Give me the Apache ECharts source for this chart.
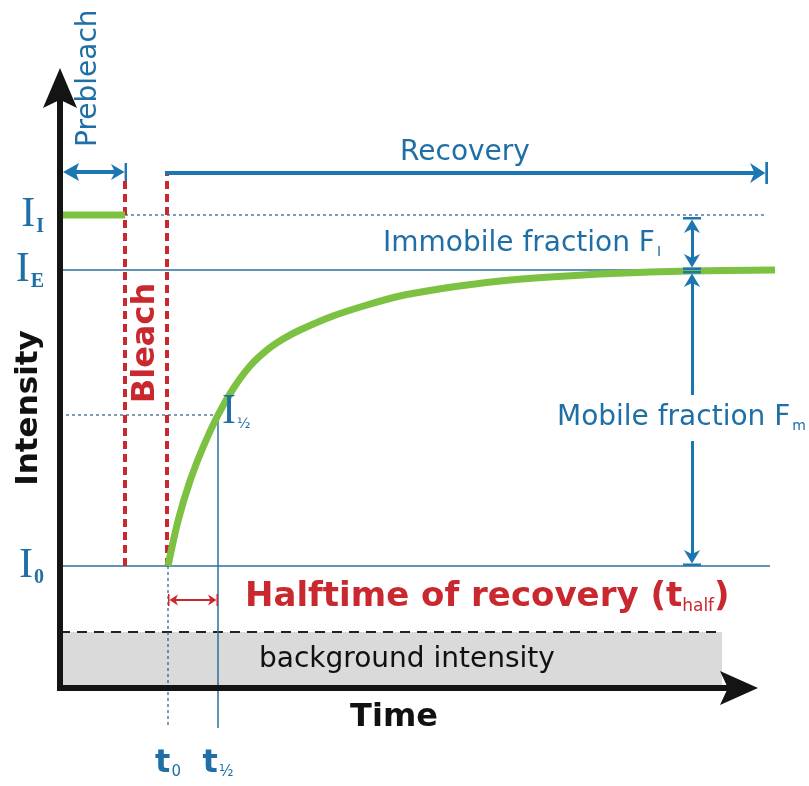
<!DOCTYPE html>
<html>
<head>
<meta charset="utf-8">
<title>FRAP recovery curve</title>
<script src="https://cdn.jsdelivr.net/npm/echarts@6/dist/echarts.min.js"></script>
<style>
    html, body { margin: 0; padding: 0; background: #fff; }
    #main { width: 809px; height: 786px; }
</style>
</head>
<body>
<div id="main"></div>
<script>
// intensity levels (bottom of plot = 0)
const levelValues = [122, 418, 473];   // I0, IE, II
const levelSubs = ['0', 'E', 'I'];
const halfIntensity = 273;             // I 1/2
const bgIntensity = 56;                // background intensity

// time marks
const timeValues = [108, 158];         // t0, t1/2
const timeSubs = ['0', '½'];
const bleachTimes = [65, 107];
const endTime = 710;

// prebleach plateau and recovery curve
const prebleachTime = [0, 65];
const recoveryTime = [108, 118, 130, 144, 158, 173, 190, 207, 223, 240, 273, 307, 340, 373, 407, 440, 490, 540, 590, 630, 715];
const recoveryIntensity = [122, 167, 207, 243, 273, 299, 322, 338, 349, 358, 372, 383, 392, 398, 403, 407, 411, 414, 416, 417, 418];

const blue = '#1f6fa6', arrowBlue = '#1c76b2', red = '#c8282e', green = '#7dc142', dotBlue = '#2c5d80';
const sans = 'DejaVu Sans';
// arrow heads (tip at the top, symbol centred on the line end)
const head = 'path://M10,0L20,24L10,19L0,24Z';
const barArrow = 'path://M0,0L20,0L20,3L0,3ZM10,3L19,20L10,15L1,20Z';

var myChart = echarts.init(document.getElementById('main'));

function seg(points, color, width, type) {
    return {
        type: 'line', data: points, symbol: 'none', clip: false, silent: true,
        lineStyle: { color: color, width: width, type: type || 'solid' }
    };
}

function arrow(from, to, color, width, symbols, size) {
    return {
        type: 'line', data: [], clip: false, silent: true,
        markLine: {
            silent: true, animation: false,
            symbol: symbols, symbolSize: size,
            label: { show: false },
            emphasis: { disabled: true },
            lineStyle: { color: color, width: width, type: 'solid', cap: 'square' },
            data: [[{ coord: from }, { coord: to }]]
        }
    };
}

function text(str, x, y, style) {
    return {
        type: 'text', x: x, y: y, z: 100, rotation: style.rotation || 0,
        style: Object.assign({
            text: str, fill: blue, fontFamily: sans, fontSize: 28,
            align: 'left', verticalAlign: 'middle'
        }, style)
    };
}

const subStyle = { fontFamily: sans, fontSize: 14, fill: blue, padding: [16, 0, 0, 2] };

option = {
    animation: false,
    grid: { left: 60, right: 29, top: 68, bottom: 98 },
    xAxis: {
        type: 'value', min: 0, max: 720,
        splitLine: { show: false },
        axisTick: { show: false },
        axisLine: { show: false },
        axisLabel: {
            customValues: timeValues,
            margin: 60,
            formatter: function(v) {
                return '{t|t}{s|' + timeSubs[timeValues.indexOf(v)] + '}';
            },
            rich: {
                t: { fontFamily: sans, fontWeight: 'bold', fontSize: 32, color: blue },
                s: { fontFamily: sans, fontSize: 15, color: blue, padding: [16, 0, 0, 1] }
            }
        }
    },
    yAxis: {
        type: 'value', min: 0, max: 620,
        splitLine: { show: false },
        axisTick: { show: false },
        axisLine: { show: false },
        axisLabel: {
            customValues: levelValues,
            margin: 16,
            formatter: function(v) {
                return '{i|I}{s|' + levelSubs[levelValues.indexOf(v)] + '}';
            },
            rich: {
                i: { fontFamily: 'Liberation Serif', fontSize: 42, color: blue },
                s: { fontFamily: 'Liberation Serif', fontWeight: 'bold', fontSize: 20, color: blue, padding: [24, 0, 0, 1] }
            }
        }
    },
    graphic: {
        elements: [
            text('Prebleach', 89, 147, { rotation: Math.PI / 2 }),
            text('Bleach', 146, 343, { rotation: Math.PI / 2, align: 'center', fill: red, fontWeight: 'bold', fontSize: 32 }),
            text('Intensity', 29, 408, { rotation: Math.PI / 2, align: 'center', fill: '#111', fontWeight: 'bold', fontSize: 31 }),
            text('Time', 394, 718, { align: 'center', fill: '#111', fontWeight: 'bold', fontSize: 32 }),
            text('Recovery', 465, 153, { align: 'center' }),
            text('Immobile fraction F{s|I}', 383, 244, { rich: { s: subStyle } }),
            text('Mobile fraction F{s|m}', 557, 418, { backgroundColor: '#fff', padding: [8, 0, 8, 0], rich: { s: subStyle } }),
            text('background intensity', 259, 660, { fill: '#111' }),
            text('Halftime of recovery (t{s|half})', 245, 597, {
                fill: red, fontWeight: 'bold', fontSize: 34,
                rich: { s: { fontFamily: sans, fontSize: 17, fill: red, padding: [19, 0, 0, 0] } }
            }),
            text('I{s|½}', 222, 412, {
                fontFamily: 'Liberation Serif', fontSize: 42,
                rich: { s: { fontFamily: sans, fontSize: 14, fill: blue, padding: [24, 0, 0, 1] } }
            })
        ]
    },
    series: [
        // background band
        {
            type: 'line', data: [[0, bgIntensity], [662, bgIntensity]], symbol: 'none', clip: false, silent: true,
            lineStyle: { color: '#222', width: 2, type: [10, 7] },
            areaStyle: { color: '#dadada', opacity: 1 }
        },
        seg([[0, levelValues[1]], [endTime, levelValues[1]]], '#2b6f9c', 1.5),
        seg([[0, levelValues[0]], [endTime, levelValues[0]]], '#2b6f9c', 1.5),
        seg([[bleachTimes[0], levelValues[2]], [705, levelValues[2]]], dotBlue, 1.2, [3, 3]),
        seg([[0, halfIntensity], [timeValues[1], halfIntensity]], dotBlue, 1.2, [3, 3]),
        seg([[timeValues[0], levelValues[0]], [timeValues[0], -40]], dotBlue, 1.2, [3, 3]),
        seg([[timeValues[1], halfIntensity], [timeValues[1], -40]], '#2b6f9c', 1.5),
        seg([[bleachTimes[0], levelValues[0]], [bleachTimes[0], 510]], red, 4, [8, 5]),
        seg([[bleachTimes[1], levelValues[0]], [bleachTimes[1], 515]], red, 4, [8, 5]),

        // arrows
        arrow([11, 516], [59, 516], arrowBlue, 4, [head, barArrow], [18, 16]),
        arrow([bleachTimes[1], 515], [699, 515], arrowBlue, 4, ['none', barArrow], [22, 18]),
        arrow([632, 463], [632, 426], arrowBlue, 3, [barArrow, barArrow], [18, 16]),
        arrow([632, 409], [632, 130], arrowBlue, 3, [barArrow, barArrow], [18, 16]),
        arrow([113, 88], [153, 88], red, 2, [barArrow, barArrow], [12, 10]),

        // prebleach plateau and recovery curve
        seg(prebleachTime.map(t => [t, levelValues[2]]), green, 7),
        {
            type: 'line', smooth: 0.3, symbol: 'none', clip: false, silent: true,
            data: recoveryTime.map((t, i) => [t, recoveryIntensity[i]]),
            lineStyle: { color: green, width: 7 }
        },

        // axes with arrow heads
        arrow([0, 0], [679, 0], '#141414', 6, ['none', head], [34, 38]),
        arrow([0, 0], [0, 600], '#141414', 6, ['none', head], [34, 40])
    ]
};
myChart.setOption(option);
</script>
</body>
</html>
